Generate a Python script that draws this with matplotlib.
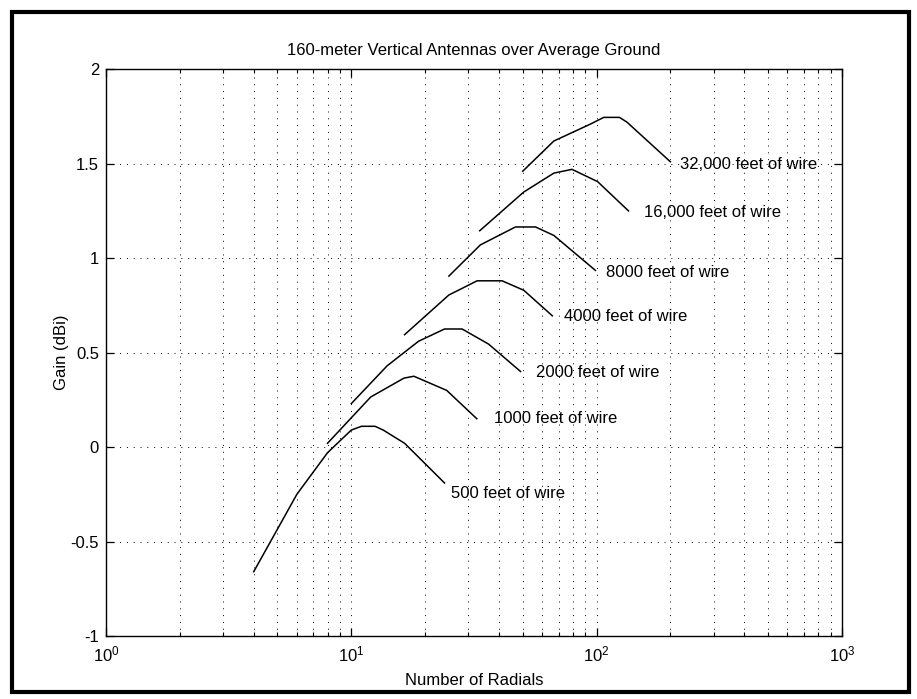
import numpy as np
import matplotlib.pyplot as plt
from matplotlib.patches import Rectangle
from matplotlib.ticker import LogLocator, FixedLocator, NullFormatter

plt.rcParams['font.family'] = ['Liberation Sans', 'DejaVu Sans']
plt.rcParams['mathtext.fontset'] = 'custom'
plt.rcParams['mathtext.rm'] = 'Liberation Sans'

# radials vs gain
radials_500 = [4, 6, 8, 10, 11, 12.5, 13.5, 16.5, 24]
gain_500 = [-0.66, -0.25, -0.03, 0.09, 0.11, 0.11, 0.09, 0.02, -0.19]

radials_1000 = [8, 12, 16.4, 18, 24.5, 32.5]
gain_1000 = [0.02, 0.265, 0.365, 0.375, 0.30, 0.15]

radials_2000 = [10, 14, 18.8, 24, 28.3, 36.3, 49]
gain_2000 = [0.23, 0.43, 0.56, 0.625, 0.625, 0.545, 0.40]

radials_4000 = [16.5, 25, 32.6, 41.2, 50.5, 66]
gain_4000 = [0.595, 0.805, 0.88, 0.88, 0.83, 0.695]

radials_8000 = [25, 33.6, 46.7, 56.4, 67, 99]
gain_8000 = [0.905, 1.07, 1.165, 1.165, 1.12, 0.935]

radials_16000 = [33.4, 50.5, 67, 79.4, 101, 135]
gain_16000 = [1.145, 1.35, 1.45, 1.47, 1.405, 1.25]

radials_32000 = [50, 67, 94.6, 107, 124, 133, 200]
gain_32000 = [1.46, 1.62, 1.71, 1.745, 1.745, 1.72, 1.51]

labels = ['500 feet of wire', '1000 feet of wire', '2000 feet of wire',
          '4000 feet of wire', '8000 feet of wire', '16,000 feet of wire',
          '32,000 feet of wire']
label_x = [25.4, 38.1, 56.4, 74, 108.9, 156, 219]
label_y = [-0.247, 0.15, 0.397, 0.693, 0.926, 1.243, 1.494]

curves = [(radials_500, gain_500), (radials_1000, gain_1000),
          (radials_2000, gain_2000), (radials_4000, gain_4000),
          (radials_8000, gain_8000), (radials_16000, gain_16000),
          (radials_32000, gain_32000)]

fig = plt.figure(figsize=(9.17, 6.99), dpi=100)
ax = fig.add_axes([0.1156, 0.0901, 0.8024, 0.8109])

for (xs, ys), lab, tx, ty in zip(curves, labels, label_x, label_y):
    ax.plot(xs, ys, color='black', linewidth=1.1)
    ax.text(tx, ty, lab, ha='left', va='center', fontsize=12)

ax.set_xscale('log')
ax.set_xlim(1, 1000)
ax.set_ylim(-1, 2)
ax.yaxis.set_major_locator(FixedLocator([-1, -0.5, 0, 0.5, 1, 1.5, 2]))
ax.set_yticklabels(['-1', '-0.5', '0', '0.5', '1', '1.5', '2'])
ax.xaxis.set_minor_locator(LogLocator(base=10, subs=np.arange(2, 10)))
ax.xaxis.set_minor_formatter(NullFormatter())

# dotted MATLAB-ish grid
ax.grid(True, which='major', axis='both', color='black',
        linestyle=(0, (1, 6)), linewidth=0.7)
ax.grid(True, which='minor', axis='x', color='black',
        linestyle=(0, (1, 6)), linewidth=0.7)

ax.tick_params(which='both', direction='in', top=True, right=True,
               labelsize=12, colors='black')
ax.tick_params(which='major', length=6, width=0.9)
ax.tick_params(which='minor', length=3, width=0.8)
ax.tick_params(axis='x', which='major', pad=6)
ax.tick_params(axis='y', which='major', pad=5)
for s in ax.spines.values():
    s.set_linewidth(1.0)

ax.set_title('160-meter Vertical Antennas over Average Ground',
             fontsize=12, pad=10)
ax.set_xlabel('Number of Radials', fontsize=12, labelpad=6)
ax.set_ylabel('Gain (dBi)', fontsize=12, labelpad=1)

# thick frame round the whole page
fig.patches.append(Rectangle((0.013, 0.01), 0.978, 0.973,
                             transform=fig.transFigure, fill=False,
                             edgecolor='black', linewidth=3))

fig.savefig('out.png', dpi=100)
